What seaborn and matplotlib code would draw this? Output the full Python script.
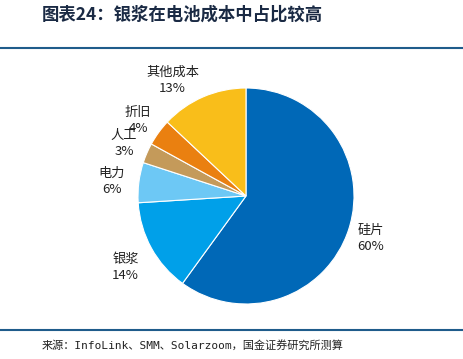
import matplotlib
matplotlib.use("Agg")
import matplotlib.pyplot as plt
import seaborn as sns
import numpy as np
from matplotlib.lines import Line2D

sns.set_theme(style="white")
plt.rcParams['font.family'] = ['Noto Sans CJK SC', 'DejaVu Sans']

# 数据
categories = ['硅片', '银浆', '电力', '人工', '折旧', '其他成本']
shares = [60, 14, 6, 3, 4, 13]
colors = ['#0068B7', '#00A0E9', '#6DC8F5', '#C49A5A', '#EA8010', '#F9BE1A']
titulo = '图表24：银浆在电池成本中占比较高'
fonte = '来源：InfoLink、SMM、Solarzoom，国金证券研究所测算'

W, H = 464, 359
fig = plt.figure(figsize=(W / 100, H / 100), dpi=100)

# eixo da pizza posicionado em pixels
cx, cy, r = 246, 196, 108
lim = 1.4
half = r * lim
ax = fig.add_axes([(cx - half) / W, (H - cy - half) / H, 2 * half / W, 2 * half / H])

labels = [f'{c}\n{v}%' for c, v in zip(categories, shares)]
wedges, texts = ax.pie(shares, labels=labels, colors=colors, startangle=90,
                       counterclock=False, labeldistance=1.23,
                       wedgeprops=dict(edgecolor='white', linewidth=0.8),
                       textprops=dict(fontsize=9.5, color='#222222', linespacing=1.3))

# ajuste fino da posição dos rótulos (distância, deslocamento angular em graus)
ajustes = [(1.22, -1), (1.30, 2), (1.25, 1), (1.23, 0), (1.22, 1), (1.27, 9)]
for w, t, (d, off) in zip(wedges, texts, ajustes):
    ang = np.deg2rad((w.theta1 + w.theta2) / 2 + off)
    t.set_position((d * np.cos(ang), d * np.sin(ang)))
    t.set_ha('center')
    t.set_va('center')
ax.set_xlim(-lim, lim)
ax.set_ylim(-lim, lim)
ax.set_aspect('equal')
ax.axis('off')

# título e linhas
fig.text(42 / W, 1 - 15 / H, titulo, fontsize=12.5, fontweight='bold', color='#1A2A44',
         ha='left', va='center', style='italic')
fig.add_artist(Line2D([0, 1], [1 - 48 / H, 1 - 48 / H], color='#1F5C8B', linewidth=1.5))
fig.add_artist(Line2D([0, 1], [1 - 330 / H, 1 - 330 / H], color='#1F5C8B', linewidth=1.5))
fig.text(42 / W, 1 - 345 / H, fonte, fontsize=8, color='#222222', ha='left', va='center',
         family=['DejaVu Sans Mono', 'Noto Sans CJK SC'])

fig.savefig('out.png', dpi=100)
